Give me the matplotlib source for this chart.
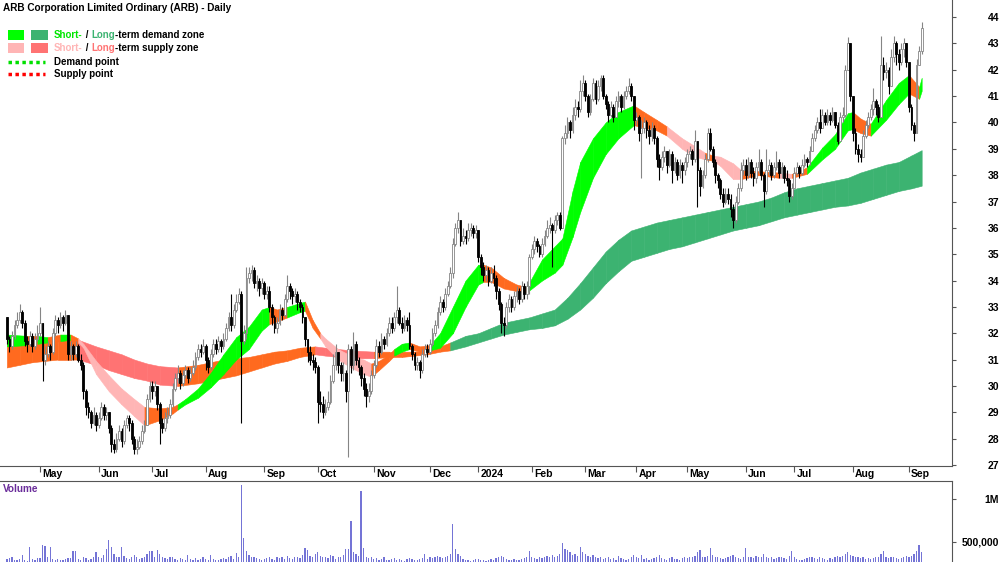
import matplotlib
matplotlib.use('Agg')
import matplotlib.pyplot as plt
from matplotlib.patches import Rectangle
from matplotlib.lines import Line2D
import numpy as np
import pandas as pd

# ASX trading days shown on the chart
first_day = '2023-04-11'
last_day = '2024-09-09'
asx_holidays = ['2023-04-25', '2023-06-12', '2023-12-25', '2023-12-26', '2024-01-01',
                '2024-01-26', '2024-03-29', '2024-04-01', '2024-04-25', '2024-06-10']

first_open = 32.6
closes = [
    31.8, 31.5, 31.9, 32.3, 32.5, 32.8, 32.4, 31.7, 31.6, 31.9, 31.5, 31.8, 32.0,
    32.4, 31.0, 31.2, 31.5, 31.3, 32.0, 32.5, 32.3, 32.6, 32.4, 32.7, 31.2, 31.5, 31.2, 31.5, 31.0, 30.8, 29.8, 29.2, 29.0, 28.6, 28.9, 28.5,
    28.8, 29.2, 28.9, 29.0, 28.4, 27.8, 27.6, 28.0, 28.3, 27.9, 28.5, 28.8, 28.6, 28.0, 27.6, 27.7, 27.9, 28.3, 28.5, 29.5, 30.0,
    29.8, 30.0, 29.3, 28.6, 28.4, 28.8, 28.9, 29.3, 29.9, 30.3, 30.5, 30.1, 30.4, 30.6, 30.3, 30.5, 30.7, 31.1, 31.4, 31.3, 31.5,
    31.0, 30.7, 31.2, 31.6, 31.4, 31.7, 31.5, 31.8, 32.2, 32.6, 32.3, 32.9, 33.2, 33.5, 31.7, 32.0, 34.1, 34.3, 34.4, 33.9, 34.0, 33.7, 33.9,
    33.5, 33.6, 33.0, 32.6, 32.2, 32.4, 32.9, 32.7, 33.3, 33.8, 33.6, 33.4, 33.5, 33.2, 33.0, 32.6, 31.8, 31.3, 31.0, 30.9, 30.7,
    29.4, 29.3, 29.0, 29.2, 29.4, 30.2, 30.8, 31.3, 30.8, 30.5, 30.5, 29.8, 31.4, 30.8, 31.6, 31.0, 30.7, 30.3, 29.9, 29.6, 29.8, 30.4,
    30.8, 31.5, 31.3, 31.8, 31.6, 32.0, 32.4, 32.2, 32.6, 32.9, 32.4, 32.2, 32.5, 32.3, 31.5, 31.2, 30.8, 30.9, 30.6, 31.2, 31.4, 31.3,
    31.6, 32.0, 32.3, 32.8, 33.2, 33.0, 33.5, 33.8, 34.3, 35.4, 36.0, 36.3, 35.5, 35.7, 35.6, 35.9, 36.0, 35.8, 35.9,
    34.9, 34.5, 34.2, 34.4, 34.0, 34.3, 34.1, 33.6, 33.1, 32.4, 32.3, 33.0, 33.3, 33.0, 33.4, 33.6, 33.3, 33.8, 33.5, 33.8, 34.9,
    35.2, 35.5, 35.3, 35.0, 35.4, 35.7, 36.0, 36.1, 35.9, 36.3, 36.5, 36.0, 39.4, 39.6, 40.0, 39.7, 40.3, 40.6, 40.5, 41.2, 41.5,
    41.0, 40.4, 40.9, 41.5, 40.9, 41.4, 41.7, 41.0, 40.7, 40.3, 40.6, 40.2, 40.8, 41.0, 40.6, 41.0, 41.2, 41.4, 41.0, 40.1,
    40.2, 39.6, 39.8, 40.0, 39.7, 39.5, 39.8, 39.4, 38.6, 38.3, 38.7, 38.9, 38.4, 38.8, 38.2, 38.5, 38.0, 38.4, 38.2, 38.5,
    38.8, 38.9, 38.6, 39.3, 38.2, 37.6, 38.0, 38.6, 39.6, 39.0, 38.5, 38.0, 37.8, 37.3, 37.0, 37.3, 37.1, 36.7, 36.3, 37.0, 37.5, 38.2, 38.4,
    38.0, 38.5, 38.1, 37.9, 38.3, 38.5, 38.0, 37.4, 38.2, 38.4, 38.0, 38.3, 38.5, 38.1, 38.3, 37.9, 37.8, 37.2, 37.5,
    38.1, 38.3, 38.1, 38.4, 38.6, 38.5, 38.9, 39.4, 39.7, 40.0, 39.8, 40.3, 40.0, 40.3, 40.1, 40.4, 39.9, 39.3, 40.2, 40.3, 42.0, 43.0, 41.0,
    39.6, 39.0, 38.8, 38.7, 39.5, 39.9, 40.2, 40.5, 40.8, 40.6, 40.2, 42.2, 41.9, 42.0, 41.4, 42.5, 43.0, 42.6, 42.3, 42.8, 43.0, 42.3,
    40.6, 39.9, 39.6, 42.2, 42.7, 43.6,
]
highs = [
    32.6, 31.9, 32.1, 32.5, 32.8, 33.1, 32.9, 32.5, 31.9, 32.1, 32.0, 32.0, 32.3,
    33.0, 32.4, 31.5, 31.7, 31.6, 32.2, 32.7, 32.6, 32.8, 32.7, 32.9, 32.7, 31.7, 31.6, 31.7, 31.6, 31.2, 30.9, 29.9, 29.4, 29.1, 29.2, 29.0,
    29.0, 29.4, 29.3, 29.2, 29.0, 28.5, 28.0, 28.2, 28.5, 28.4, 28.7, 28.9, 28.9, 28.7, 28.1, 28.0, 28.1, 28.5, 28.7, 29.7, 30.2,
    30.2, 30.2, 30.0, 29.4, 28.8, 29.0, 29.2, 29.5, 30.1, 30.5, 30.8, 30.6, 30.6, 30.8, 30.7, 30.7, 31.0, 31.3, 31.6, 31.6, 31.8,
    31.6, 31.1, 31.4, 31.8, 31.8, 31.9, 31.8, 32.0, 32.4, 32.8, 33.5, 33.1, 33.5, 33.7, 33.6, 32.3, 34.5, 34.5, 34.6, 34.5, 34.2, 34.1, 34.1,
    34.0, 33.8, 33.8, 33.1, 32.7, 32.6, 33.1, 33.0, 33.5, 34.2, 33.9, 33.7, 33.7, 33.6, 33.3, 33.1, 32.6, 31.8, 31.5, 31.2, 31.1,
    30.8, 29.8, 29.6, 29.5, 29.8, 30.4, 31.2, 31.6, 31.3, 30.9, 30.9, 30.6, 31.6, 31.5, 32.05, 31.7, 31.1, 30.8, 30.5, 30.1, 30.1, 30.6,
    31.0, 31.8, 31.7, 32.0, 31.9, 32.2, 32.6, 32.6, 32.8, 33.8, 33.0, 32.6, 32.7, 32.6, 32.8, 31.6, 31.3, 31.1, 31.0, 31.4, 31.6, 31.6,
    31.8, 32.2, 32.5, 33.0, 33.4, 33.3, 33.7, 34.0, 34.5, 35.6, 36.2, 36.6, 36.3, 36.0, 35.9, 36.2, 36.2, 36.1, 36.1,
    35.9, 35.0, 34.7, 34.6, 34.5, 34.5, 34.6, 34.2, 33.7, 33.2, 32.6, 33.2, 33.5, 33.4, 33.6, 33.8, 33.7, 34.0, 33.9, 34.0, 35.0,
    35.4, 35.7, 35.6, 35.4, 35.6, 35.9, 36.3, 36.4, 36.2, 36.5, 36.6, 36.6, 39.5, 39.9, 40.2, 40.1, 40.6, 40.9, 40.8, 41.6, 41.8,
    41.6, 41.1, 41.1, 41.7, 41.6, 41.6, 41.8, 41.8, 41.1, 40.8, 40.8, 40.7, 41.0, 41.2, 41.1, 41.2, 41.4, 41.7, 41.5, 41.0,
    40.4, 40.3, 40.1, 40.2, 40.1, 39.9, 40.0, 39.9, 39.5, 38.8, 38.9, 39.1, 38.9, 39.0, 38.9, 38.7, 38.6, 38.6, 38.5, 38.7,
    39.0, 39.1, 39.0, 39.7, 39.3, 38.3, 38.2, 38.8, 39.8, 39.8, 39.1, 38.6, 38.1, 37.9, 37.5, 37.5, 37.5, 37.3, 36.9, 37.2, 37.7, 38.5, 38.6,
    38.6, 38.7, 38.6, 38.3, 38.5, 39.0, 38.6, 38.1, 39.0, 38.6, 38.5, 38.5, 38.9, 38.6, 38.5, 38.4, 38.2, 37.9, 37.7,
    38.3, 38.5, 38.4, 38.6, 38.8, 38.7, 39.1, 39.6, 39.9, 40.2, 40.5, 40.5, 40.4, 40.5, 40.4, 40.6, 40.4, 40.0, 40.4, 40.6, 42.2, 43.25, 42.6,
    41.0, 39.8, 39.2, 39.0, 39.7, 40.1, 40.4, 40.7, 41.3, 40.9, 40.7, 43.3, 42.5, 42.3, 42.1, 42.8, 43.3, 43.1, 42.8, 43.0, 43.2, 43.0,
    41.7, 40.7, 40.0, 42.4, 42.9, 43.8,
]
lows = [
    31.6, 31.3, 31.4, 31.8, 32.2, 32.4, 32.2, 31.5, 31.3, 31.5, 31.3, 31.4, 31.7,
    31.9, 30.2, 30.8, 31.1, 31.0, 31.2, 31.9, 32.0, 32.2, 32.1, 32.3, 31.0, 31.0, 31.0, 31.1, 30.9, 30.6, 29.5, 28.9, 28.8, 28.4, 28.5, 28.3,
    28.4, 28.7, 28.7, 28.7, 28.2, 27.5, 27.45, 27.5, 27.9, 27.7, 27.8, 28.4, 28.3, 27.8, 27.4, 27.4, 27.6, 27.8, 28.2, 28.5, 29.4,
    29.5, 29.6, 29.1, 27.8, 28.2, 28.3, 28.6, 28.8, 29.2, 29.8, 30.1, 29.9, 30.0, 30.3, 30.1, 30.2, 30.4, 30.6, 31.0, 31.1, 31.2,
    30.6, 30.5, 30.6, 31.1, 31.2, 31.3, 31.3, 31.4, 31.7, 32.1, 32.1, 32.2, 32.8, 33.1, 28.6, 31.6, 31.8, 33.9, 34.0, 33.7, 33.6, 33.4, 33.5,
    33.3, 33.3, 32.8, 32.3, 32.0, 32.0, 32.3, 32.5, 32.6, 33.2, 33.3, 33.1, 33.2, 32.9, 32.8, 32.4, 31.5, 30.9, 30.8, 30.6, 30.5,
    28.6, 29.0, 28.8, 28.9, 29.1, 29.3, 30.1, 30.6, 30.5, 30.2, 30.2, 29.4, 27.3, 30.5, 30.6, 30.8, 30.4, 30.0, 29.6, 29.2, 29.4, 29.7,
    30.3, 30.7, 31.1, 31.2, 31.4, 31.5, 31.9, 32.0, 32.1, 32.4, 32.3, 32.0, 32.1, 32.1, 31.4, 31.0, 30.6, 30.6, 30.3, 30.5, 31.1, 31.1,
    31.2, 31.5, 31.9, 32.2, 32.7, 32.8, 32.9, 33.4, 33.7, 34.1, 35.3, 35.8, 35.3, 35.4, 35.4, 35.5, 35.7, 35.6, 35.6,
    34.7, 34.2, 34.0, 34.0, 33.8, 33.9, 33.8, 33.3, 32.9, 32.0, 31.9, 32.2, 32.8, 32.8, 32.9, 33.2, 33.1, 33.2, 33.3, 33.3, 33.5,
    34.8, 35.0, 35.1, 34.9, 34.9, 35.3, 35.6, 35.8, 34.5, 35.8, 36.1, 35.9, 36.1, 39.2, 39.4, 39.4, 39.6, 40.1, 40.2, 40.4, 41.0,
    40.8, 40.2, 40.3, 40.8, 40.7, 40.8, 41.2, 40.9, 40.5, 40.0, 40.2, 40.0, 40.2, 40.6, 40.4, 40.5, 40.9, 41.1, 40.8, 39.7,
    39.9, 39.3, 37.9, 39.6, 39.4, 39.2, 39.3, 39.2, 38.3, 37.8, 38.2, 38.5, 38.1, 38.3, 37.7, 38.1, 37.8, 37.9, 37.7, 38.0,
    38.3, 38.6, 38.4, 38.5, 36.8, 37.2, 37.5, 37.9, 38.5, 38.9, 38.3, 37.7, 37.5, 37.1, 36.8, 36.9, 36.9, 36.4, 36.0, 36.2, 36.9, 37.4, 38.0,
    37.8, 37.9, 37.9, 37.6, 37.7, 38.1, 37.8, 36.8, 37.3, 38.0, 37.8, 37.9, 38.2, 37.9, 37.9, 37.7, 37.6, 37.0, 37.1,
    37.5, 38.0, 37.9, 38.0, 38.3, 38.3, 38.4, 38.9, 39.3, 39.6, 39.6, 39.8, 39.9, 39.9, 39.9, 40.0, 39.8, 39.2, 39.3, 40.0, 40.2, 42.0, 40.8,
    39.3, 38.8, 38.5, 38.5, 38.7, 39.4, 39.8, 40.1, 40.3, 40.3, 40.0, 40.2, 41.6, 41.7, 41.1, 41.4, 42.3, 42.2, 42.0, 42.2, 42.5, 42.1,
    40.4, 39.7, 39.3, 39.8, 42.3, 42.6,
]
volumes_k = [
    300, 310, 330, 290, 285, 300, 345, 295, 280, 445, 300, 290, 310,
    310, 460, 455, 320, 445, 300, 295, 305, 285, 290, 300, 310, 310, 400, 395, 300, 290, 330, 310, 295, 305, 320, 380,
    330, 310, 350, 420, 523, 440, 360, 330, 320, 445, 340, 310, 300, 330, 350, 320, 300, 310, 330, 360, 400,
    390, 330, 412, 360, 320, 310, 300, 320, 330, 300, 295, 310, 300, 290, 350, 300, 295, 310, 290, 300, 320,
    300, 290, 345, 300, 295, 290, 300, 310, 300, 320, 340, 300, 370, 330, 1160, 550, 400, 350, 320, 330, 310, 300, 290,
    300, 310, 320, 300, 290, 330, 310, 320, 300, 340, 310, 300, 320, 330, 310, 350, 430, 410, 340, 320, 360,
    380, 340, 320, 330, 310, 350, 340, 300, 320, 330, 350, 420, 420, 744, 380, 360, 340, 1097, 430, 330, 310, 320,
    300, 310, 290, 305, 320, 290, 285, 300, 310, 295, 300, 290, 280, 300, 310, 305, 295, 290, 300, 310, 360, 300,
    320, 310, 330, 340, 320, 310, 330, 340, 360, 709, 420, 360, 340, 300, 290, 285, 280, 290, 300,
    300, 290, 285, 280, 295, 300, 290, 310, 330, 340, 320, 300, 290, 285, 300, 295, 290, 300, 310, 320, 390,
    330, 310, 300, 320, 310, 330, 340, 320, 350, 330, 340, 360, 488, 420, 410, 380, 350, 360, 340, 445, 380,
    360, 340, 330, 350, 320, 310, 330, 300, 310, 320, 300, 310, 295, 340, 310, 300, 290, 305, 320, 350,
    330, 310, 350, 300, 310, 295, 300, 310, 330, 350, 310, 300, 295, 310, 320, 305, 300, 295, 310, 320,
    310, 320, 330, 340, 380, 412, 330, 320, 340, 430, 350, 330, 320, 310, 300, 310, 320, 340, 350, 330, 310, 300, 320,
    430, 330, 320, 310, 340, 330, 320, 360, 330, 310, 320, 300, 310, 330, 320, 310, 300, 340, 390,
    320, 300, 290, 285, 300, 310, 320, 330, 310, 300, 320, 310, 300, 290, 310, 300, 320, 340, 330, 340, 360, 380, 350,
    340, 330, 320, 310, 320, 300, 310, 300, 310, 320, 330, 360, 390, 320, 310, 330, 320, 310, 300, 310, 320, 340,
    330, 340, 360, 400, 470, 380,
]

# zone bands: bar index, upper edge, lower edge, zone (D demand, S supply, N neutral)
long_idx = [0, 5, 10, 15, 20, 25, 28, 35, 40, 45, 50, 55, 60, 67, 75, 80, 85, 90, 95, 100,
            105, 110, 115, 121, 125, 130, 135, 144, 150, 155, 160, 165, 170, 174, 180, 185, 190, 195, 200, 205,
            210, 215, 220, 225, 230, 235, 240, 245, 250, 255, 260, 265, 270, 275, 280, 285, 290, 295, 300, 305,
            310, 315, 320, 325, 330, 335, 340, 345, 350, 355, 359]
long_upper = [31.75, 31.8, 31.8, 31.8, 31.8, 31.8, 31.75, 31.5, 31.35, 31.2, 31.0, 30.85, 30.75, 30.7, 30.8, 30.9, 31.0, 31.05, 31.1, 31.2,
              31.3, 31.35, 31.45, 31.5, 31.45, 31.4, 31.35, 31.3, 31.3, 31.3, 31.3, 31.35, 31.5, 31.65, 31.9, 32.0, 32.2, 32.4, 32.5, 32.6,
              32.75, 32.9, 33.35, 33.9, 34.5, 35.1, 35.55, 35.9, 36.05, 36.2, 36.3, 36.4, 36.5, 36.6, 36.7, 36.8, 36.9, 37.0, 37.15, 37.35,
              37.5, 37.6, 37.7, 37.8, 37.9, 38.1, 38.25, 38.4, 38.5, 38.75, 38.95]
long_lower = [30.7, 30.8, 30.9, 30.95, 31.0, 31.0, 31.0, 30.8, 30.6, 30.45, 30.3, 30.2, 30.05, 30.0, 30.1, 30.2, 30.3, 30.4, 30.55, 30.7,
              30.85, 30.95, 31.1, 31.2, 31.15, 31.1, 31.05, 31.05, 31.1, 31.1, 31.15, 31.2, 31.3, 31.35, 31.5, 31.65, 31.8, 31.95, 32.05, 32.15,
              32.2, 32.3, 32.55, 32.9, 33.35, 33.9, 34.35, 34.75, 34.9, 35.05, 35.2, 35.3, 35.45, 35.6, 35.75, 35.9, 36.0, 36.1, 36.25, 36.4,
              36.5, 36.6, 36.7, 36.8, 36.85, 36.95, 37.1, 37.25, 37.4, 37.5, 37.6]
long_zone = list('NNNNNNSSSSSSSNNNNNNNNNNSSSSNNNNNNDDDDDDDDDDDDDDDDDDDDDDDDDDDDDDDDDDDDDDDDDDDDDD')

short_idx = [0, 8, 12, 16, 21, 25, 28, 30, 35, 40, 45, 50, 54, 60, 65, 67, 70, 75, 80, 85,
             90, 95, 100, 103, 106, 110, 115, 117, 120, 123, 125, 130, 135, 140, 143, 146, 150, 152, 155, 158,
             162, 166, 170, 175, 180, 185, 187, 190, 195, 200, 204, 210, 215, 218, 222, 225, 230, 235, 240, 246,
             250, 255, 259, 265, 270, 274, 277, 280, 285, 288, 295, 303, 308, 314, 320, 325, 330, 332, 335, 339,
             345, 350, 354, 358, 359]
short_upper = [31.95, 31.9, 31.9, 31.85, 31.95, 31.95, 31.8, 31.6, 30.95, 30.4, 29.9, 29.5, 29.2, 29.15, 29.2, 29.3, 29.5, 29.9, 30.5, 31.2,
               31.85, 32.25, 32.9, 33.0, 32.9, 33.0, 33.15, 33.2, 32.5, 32.0, 31.8, 31.4, 31.15, 31.0, 30.85, 30.95, 31.2, 31.4, 31.6, 31.65,
               31.5, 31.55, 32.0, 33.0, 34.0, 34.6, 34.6, 34.5, 34.1, 33.85, 33.75, 34.8, 35.3, 35.6, 37.4, 38.5, 39.4, 40.0, 40.4, 40.65,
               40.4, 40.1, 39.85, 39.4, 39.1, 38.85, 38.75, 38.7, 38.45, 38.2, 38.15, 38.1, 38.05, 38.3, 39.05, 39.55, 40.35, 40.4, 40.15, 39.95,
               40.85, 41.5, 41.8, 41.35, 41.7]
short_lower = [31.5, 31.55, 31.6, 31.65, 31.7, 31.75, 31.65, 31.45, 30.45, 29.8, 29.3, 28.85, 28.5, 28.7, 28.95, 29.1, 29.3, 29.55, 29.95, 30.45,
               31.0, 31.4, 32.1, 32.35, 32.45, 32.6, 32.8, 32.85, 32.2, 31.8, 31.5, 31.0, 30.7, 30.45, 30.35, 30.6, 30.95, 31.15, 31.3, 31.4,
               31.3, 31.35, 31.45, 32.0, 33.0, 33.85, 33.95, 33.95, 33.7, 33.6, 33.55, 34.0, 34.3, 34.6, 35.65, 36.6, 37.9, 38.8, 39.4, 39.9,
               39.8, 39.7, 39.5, 39.0, 38.7, 38.6, 38.55, 38.35, 37.85, 37.85, 38.0, 37.9, 37.9, 38.05, 38.6, 39.0, 39.7, 39.75, 39.6, 39.5,
               40.1, 40.7, 41.1, 40.9, 41.2]
short_zone = list('DNDNDNSSSSSSNNNDDDDDDDDNNDDNNSSSSSNNNDDNNDDDDDNNNNDDDDDDDDDNNNSSSNSSSNNSNDDDDNNDDDNDD')

month_names = ['May', 'Jun', 'Jul', 'Aug', 'Sep', 'Oct', 'Nov', 'Dec', '2024',
               'Feb', 'Mar', 'Apr', 'May', 'Jun', 'Jul', 'Aug', 'Sep']
price_ticks = list(range(27, 45))
volume_ticks = [500000, 1000000]
volume_labels = ['500,000', '1M']

W, H = 1000, 562
FONT = 'Liberation Sans'

long_colors = {'D': '#3cb371', 'S': '#ff7373', 'N': '#ff6a1f'}
short_colors = {'D': '#00ff00', 'S': '#ffb5b5', 'N': '#ff6a1f'}


def draw_band(ax, idx, upper, lower, zone, colors, z):
    for k in range(len(idx) - 1):
        c = colors[zone[k]]
        ax.fill_between(idx[k:k + 2], lower[k:k + 2], upper[k:k + 2],
                        facecolor=c, edgecolor=c, lw=0.4, zorder=z)


def colored_text(fig, x_px, y_px, parts, size=7.0):
    renderer = fig.canvas.get_renderer()
    for text, color in parts:
        t = fig.text(x_px / W, 1 - y_px / H, text, color=color, fontsize=size,
                     fontweight='bold', family=FONT, va='center', ha='left')
        x_px += t.get_window_extent(renderer).width


def fig_rect(fig, x, y, w, h, color):
    fig.add_artist(Rectangle((x / W, 1 - (y + h) / H), w / W, h / H,
                             transform=fig.transFigure, facecolor=color, edgecolor='none'))


def main():
    days = pd.bdate_range(first_day, last_day)
    days = days[~days.isin(pd.to_datetime(asx_holidays))]
    n = len(days)
    x = np.arange(n)

    c = np.array(closes)
    o = np.array([first_open] + closes[:-1])
    h = np.maximum(np.array(highs), np.maximum(o, c))
    l = np.minimum(np.array(lows), np.minimum(o, c))
    up = c >= o

    fig = plt.figure(figsize=(W / 100, H / 100), dpi=100)
    ax = fig.add_axes([0, 1 - 466 / H, 952 / W, 466 / H])
    axv = fig.add_axes([0, 0, 952 / W, 1 - 481 / H])

    draw_band(ax, long_idx, long_upper, long_lower, long_zone, long_colors, 1)
    draw_band(ax, short_idx, short_upper, short_lower, short_zone, short_colors, 2)

    ax.vlines(x[up], l[up], h[up], color='#858585', lw=0.8, zorder=3)
    ax.vlines(x[~up], l[~up], h[~up], color='black', lw=0.8, zorder=3)
    ax.bar(x[up], (c - o)[up], bottom=o[up], width=0.7, color='white',
           edgecolor='#858585', lw=0.6, zorder=4)
    ax.bar(x[~up], (o - c)[~up], bottom=c[~up], width=0.7, color='black',
           edgecolor='black', lw=0.6, zorder=4)

    xmin, xmax = -2.7, 370.9
    ax.set_xlim(xmin, xmax)
    ax.set_ylim(26.96, 44.65)
    axv.set_xlim(xmin, xmax)
    axv.set_ylim(267000, 1209000)

    axv.bar(x, np.array(volumes_k) * 1000, width=0.5, color='#7474d6', lw=0)

    # month starts (skip the partial April at the left edge)
    month_start = [i for i in range(1, n) if days[i].month != days[i - 1].month]
    ax.set_xticks(month_start)
    ax.set_xticklabels([])
    ax.tick_params(axis='x', direction='out', length=4, color='#555555')
    for pos, name in zip(month_start, month_names):
        ax.annotate(name, (pos, 0), xycoords=('data', 'axes fraction'),
                    xytext=(1.5, -2), textcoords='offset points', ha='left', va='top',
                    fontsize=7.5, fontweight='bold', family=FONT)
    axv.set_xticks([])

    for a in (ax, axv):
        a.spines['left'].set_visible(False)
        a.spines['top'].set_visible(False)
        a.spines['right'].set_color('#555555')
        a.spines['bottom'].set_color('#555555')
        a.yaxis.tick_right()
    axv.spines['top'].set_visible(True)
    axv.spines['top'].set_color('#555555')
    axv.spines['bottom'].set_visible(False)

    ax.set_yticks(price_ticks)
    ax.set_yticklabels([str(t) for t in price_ticks])
    ax.tick_params(axis='y', direction='out', length=3, pad=31, color='#555555',
                   labelsize=7.5)
    axv.set_yticks(volume_ticks)
    axv.set_yticklabels(volume_labels)
    axv.tick_params(axis='y', direction='out', length=3, pad=31, color='#555555',
                    labelsize=7.5)
    for lab in ax.get_yticklabels() + axv.get_yticklabels():
        lab.set_horizontalalignment('right')
        lab.set_fontweight('bold')
        lab.set_family(FONT)

    # title, legend and panel label
    fig.text(3 / W, 1 - 8 / H, 'ARB Corporation Limited Ordinary (ARB) - Daily',
             fontsize=7.2, fontweight='bold', family=FONT, va='center', ha='left')
    fig_rect(fig, 8, 30, 16, 10, '#00ff00')
    fig_rect(fig, 31, 30, 17, 10, '#3cb371')
    fig_rect(fig, 8, 43, 16, 10, '#ffb5b5')
    fig_rect(fig, 31, 43, 17, 10, '#ff7373')
    colored_text(fig, 54, 35, [('Short-', '#00e600'), (' / ', 'black'),
                               ('Long', '#3cb371'), ('-term demand zone', 'black')])
    colored_text(fig, 54, 48, [('Short-', '#ffb5b5'), (' / ', 'black'),
                               ('Long', '#ff7373'), ('-term supply zone', 'black')])
    for y_px, col, label in ((62, '#00e000', 'Demand point'), (74, '#ff0000', 'Supply point')):
        fig.add_artist(Line2D([8 / W, 45 / W], [1 - y_px / H] * 2, transform=fig.transFigure,
                              color=col, lw=2.5, linestyle=(0, (1, 1))))
        fig.text(54 / W, 1 - y_px / H, label, fontsize=7.0, fontweight='bold',
                 family=FONT, va='center', ha='left')
    fig.text(3 / W, 1 - 489 / H, 'Volume', fontsize=7.2, fontweight='bold',
             family=FONT, color='#6a2c9a', va='center', ha='left')

    fig.savefig('out.png', dpi=100)


if __name__ == '__main__':
    main()
